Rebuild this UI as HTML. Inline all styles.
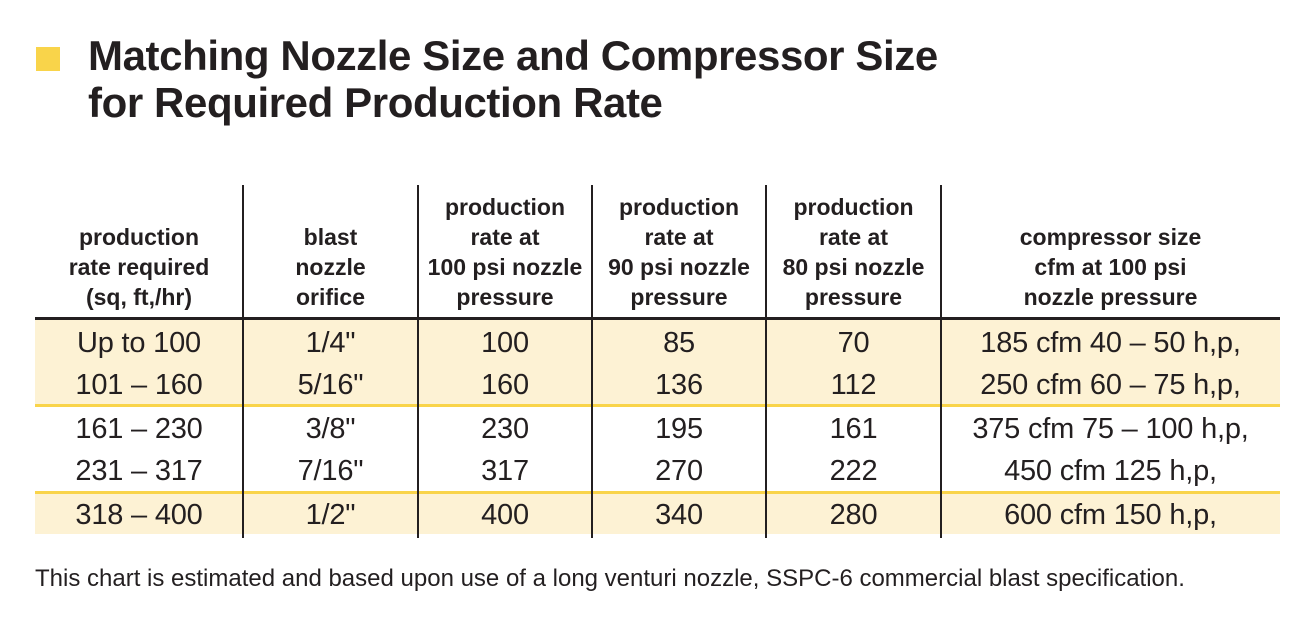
<!DOCTYPE html>
<html><head><meta charset="utf-8"><style>
body{margin:0;width:1316px;height:642px;background:#fff;position:relative;overflow:hidden;font-family:"Liberation Sans",Arial,sans-serif;color:#231f20}
.a{position:absolute}
.t{position:absolute;left:88px;font-weight:bold;font-size:42px;letter-spacing:-0.4px;white-space:nowrap;line-height:46px}
.h{position:absolute;top:190px;height:122px;display:flex;align-items:flex-end;justify-content:center;text-align:center;font-family:"Liberation Sans Narrow","Liberation Sans",sans-serif;font-weight:bold;font-size:23px;line-height:30px}
.c{position:absolute;text-align:center;font-size:29px;line-height:30px;white-space:nowrap;letter-spacing:-0.2px}
.v{position:absolute;top:185px;height:353px;width:2px;background:#231f20}
</style></head><body>
<div class="a" style="left:36px;top:47px;width:24px;height:24px;background:#f9d44a"></div>
<div class="t" style="top:33px">Matching Nozzle Size and Compressor Size</div>
<div class="t" style="top:80px">for Required Production Rate</div>

<div class="a" style="left:35px;top:320px;width:1245px;height:85px;background:#fdf2d4"></div>
<div class="a" style="left:35px;top:494px;width:1245px;height:40px;background:#fdf2d4"></div>
<div class="a" style="left:35px;top:317px;width:1245px;height:3px;background:#231f20"></div>
<div class="a" style="left:35px;top:404px;width:1245px;height:3px;background:#f9d44a"></div>
<div class="a" style="left:35px;top:491px;width:1245px;height:3px;background:#f9d44a"></div>

<div class="v" style="left:242px"></div>
<div class="v" style="left:417px"></div>
<div class="v" style="left:591px"></div>
<div class="v" style="left:765px"></div>
<div class="v" style="left:940px"></div>

<div class="h" style="left:35px;width:208px">production<br>rate required<br>(sq, ft,/hr)</div>
<div class="h" style="left:243px;width:175px">blast<br>nozzle<br>orifice</div>
<div class="h" style="left:418px;width:174px">production<br>rate at<br>100 psi nozzle<br>pressure</div>
<div class="h" style="left:592px;width:174px">production<br>rate at<br>90 psi nozzle<br>pressure</div>
<div class="h" style="left:766px;width:175px">production<br>rate at<br>80 psi nozzle<br>pressure</div>
<div class="h" style="left:941px;width:339px">compressor size<br>cfm at 100 psi<br>nozzle pressure</div>

<div class="c" style="left:35px;width:208px;top:328px">Up to 100</div>
<div class="c" style="left:35px;width:208px;top:370px">101 – 160</div>
<div class="c" style="left:35px;width:208px;top:414px">161 – 230</div>
<div class="c" style="left:35px;width:208px;top:456px">231 – 317</div>
<div class="c" style="left:35px;width:208px;top:500px">318 – 400</div>

<div class="c" style="left:243px;width:175px;top:328px">1/4"</div>
<div class="c" style="left:243px;width:175px;top:370px">5/16"</div>
<div class="c" style="left:243px;width:175px;top:414px">3/8"</div>
<div class="c" style="left:243px;width:175px;top:456px">7/16"</div>
<div class="c" style="left:243px;width:175px;top:500px">1/2"</div>

<div class="c" style="left:418px;width:174px;top:328px">100</div>
<div class="c" style="left:418px;width:174px;top:370px">160</div>
<div class="c" style="left:418px;width:174px;top:414px">230</div>
<div class="c" style="left:418px;width:174px;top:456px">317</div>
<div class="c" style="left:418px;width:174px;top:500px">400</div>

<div class="c" style="left:592px;width:174px;top:328px">85</div>
<div class="c" style="left:592px;width:174px;top:370px">136</div>
<div class="c" style="left:592px;width:174px;top:414px">195</div>
<div class="c" style="left:592px;width:174px;top:456px">270</div>
<div class="c" style="left:592px;width:174px;top:500px">340</div>

<div class="c" style="left:766px;width:175px;top:328px">70</div>
<div class="c" style="left:766px;width:175px;top:370px">112</div>
<div class="c" style="left:766px;width:175px;top:414px">161</div>
<div class="c" style="left:766px;width:175px;top:456px">222</div>
<div class="c" style="left:766px;width:175px;top:500px">280</div>

<div class="c" style="left:941px;width:339px;top:328px">185 cfm 40 – 50 h,p,</div>
<div class="c" style="left:941px;width:339px;top:370px">250 cfm 60 – 75 h,p,</div>
<div class="c" style="left:941px;width:339px;top:414px">375 cfm 75 – 100 h,p,</div>
<div class="c" style="left:941px;width:339px;top:456px">450 cfm 125 h,p,</div>
<div class="c" style="left:941px;width:339px;top:500px">600 cfm 150 h,p,</div>

<div class="a" style="left:35px;top:565px;font-size:24px;line-height:28px;white-space:nowrap">This chart is estimated and based upon use of a long venturi nozzle, SSPC-6 commercial blast specification.</div>
</body></html>
